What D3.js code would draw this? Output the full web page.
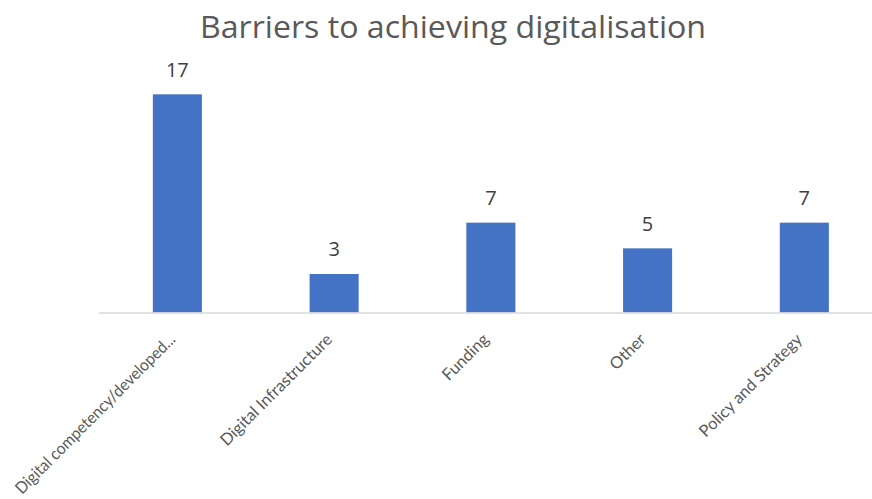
<!DOCTYPE html>
<html>
<head>
<meta charset="utf-8">
<script src="https://cdn.jsdelivr.net/npm/d3@7"></script>
<style>
  html, body { margin: 0; padding: 0; background: #ffffff; }
  svg { display: block; font-family: "Open Sans", "Noto Sans", sans-serif; }
</style>
</head>
<body>
<svg id="chart" width="872" height="499"></svg>
<script>
// Survey responses: barriers to achieving digitalisation
const categories = [
  "Digital competency/developed...",
  "Digital Infrastructure",
  "Funding",
  "Other",
  "Policy and Strategy"
];
const counts = [17, 3, 7, 5, 7];
const chartTitle = "Barriers to achieving digitalisation";

const width = 872, height = 499;
const plot = { left: 99, right: 882.7, top: 81.5, bottom: 312.5 };

const svg = d3.select("#chart");

const data = categories.map((c, i) => ({ category: c, value: counts[i] }));

const x = d3.scaleBand()
  .domain(categories)
  .range([plot.left, plot.right])
  .paddingInner(0.687)
  .paddingOuter(0.3435);

const y = d3.scaleLinear()
  .domain([0, 18])
  .range([plot.bottom, plot.top]);

// Title
const title = svg.append("text")
  .attr("x", 453)
  .attr("y", 38)
  .attr("text-anchor", "middle")
  .attr("fill", "#595959")
  .style("font-size", "31px")
  .text(chartTitle);
title.attr("textLength", 506).attr("lengthAdjust", "spacingAndGlyphs");

// Bars
svg.append("g")
  .selectAll("rect")
  .data(data)
  .join("rect")
  .attr("x", d => x(d.category))
  .attr("y", d => y(d.value))
  .attr("width", x.bandwidth())
  .attr("height", d => y(0) - y(d.value))
  .attr("fill", "#4472c4");

// Value labels
svg.append("g")
  .selectAll("text")
  .data(data)
  .join("text")
  .attr("x", d => x(d.category) + x.bandwidth() / 2)
  .attr("y", d => y(d.value) - 17.6)
  .attr("text-anchor", "middle")
  .attr("fill", "#404040")
  .style("font-size", "20px")
  .text(d => d.value);

// Category axis
const labelShift = { dx: -1, dy: 28 };
const labelFont = 16.5;
const xAxis = d3.axisBottom(x).tickSize(0).tickPadding(0);
const gx = svg.append("g")
  .attr("transform", `translate(0,${plot.bottom})`)
  .call(xAxis);
gx.select(".domain")
  .attr("d", `M${plot.left},0.5H${plot.right}`)
  .attr("stroke", "#d9d9d9")
  .attr("stroke-width", 1.5);
gx.selectAll(".tick text")
  .attr("fill", "#595959")
  .style("font-size", labelFont + "px")
  .style("font-family", "Lato, 'Open Sans', sans-serif")
  .attr("text-anchor", "end")
  .attr("dy", null)
  .attr("y", 0)
  .attr("transform", `translate(${labelShift.dx},${labelShift.dy}) rotate(-45)`)
  .each(function (d) {
    // Squeeze a slanted label that would run past the left or bottom edge
    const anchorX = x(d) + x.bandwidth() / 2 + labelShift.dx;
    const anchorY = plot.bottom + labelShift.dy;
    const maxLen = Math.min(
      (anchorX - 8) / Math.SQRT1_2 - labelFont * 0.75,
      (height - 4 - anchorY) / Math.SQRT1_2
    );
    const natural = this.getComputedTextLength();
    if (natural > maxLen) {
      d3.select(this)
        .attr("textLength", maxLen)
        .attr("lengthAdjust", "spacingAndGlyphs");
    }
  });
</script>
</body>
</html>
